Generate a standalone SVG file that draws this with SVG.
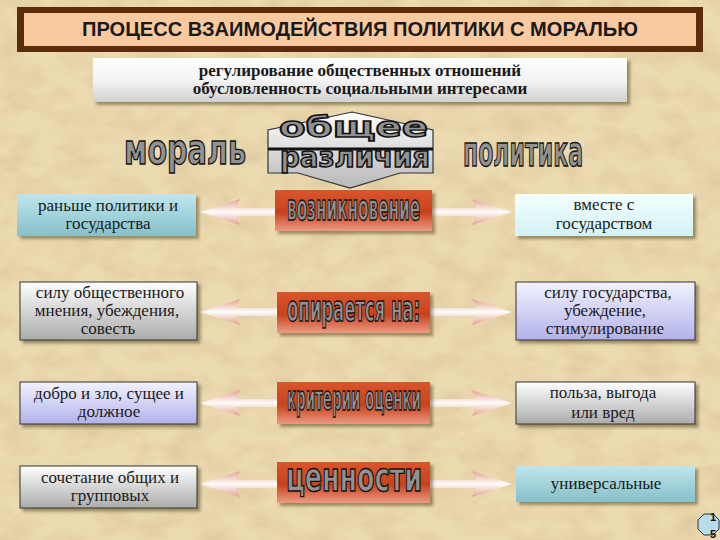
<svg xmlns="http://www.w3.org/2000/svg" width="720" height="540" viewBox="0 0 720 540">
<defs>
  <filter id="paper" x="0" y="0" width="100%" height="100%">
    <feTurbulence type="fractalNoise" baseFrequency="0.03 0.045" numOctaves="4" seed="7"/>
    <feColorMatrix type="matrix" values="0 0 0 0 0.62  0 0 0 0 0.48  0 0 0 0 0.26  0.9 0 0 0 -0.33"/>
  </filter>
  <filter id="shadow" x="-10%" y="-20%" width="125%" height="150%">
    <feDropShadow dx="3" dy="3" stdDeviation="1.8" flood-color="#3a2a10" flood-opacity="0.45"/>
  </filter>
  <linearGradient id="gSub" x1="0" y1="0" x2="0" y2="1">
    <stop offset="0" stop-color="#ffffff"/>
    <stop offset="0.5" stop-color="#f4f4f4"/>
    <stop offset="1" stop-color="#d0d0d0"/>
  </linearGradient>
  <linearGradient id="gRed" x1="0" y1="0" x2="0" y2="1">
    <stop offset="0" stop-color="#d9552c"/>
    <stop offset="0.55" stop-color="#c9421c"/>
    <stop offset="1" stop-color="#eb9a84"/>
  </linearGradient>
  <linearGradient id="gTeal" x1="0" y1="0" x2="0" y2="1">
    <stop offset="0" stop-color="#bfe6ec"/>
    <stop offset="1" stop-color="#86c0ca"/>
  </linearGradient>
  <linearGradient id="gCyan" x1="0" y1="0" x2="0" y2="1">
    <stop offset="0" stop-color="#f4ffff"/>
    <stop offset="1" stop-color="#d2f2f6"/>
  </linearGradient>
  <linearGradient id="gGray" x1="0" y1="0" x2="0" y2="1">
    <stop offset="0" stop-color="#ffffff"/>
    <stop offset="1" stop-color="#ababab"/>
  </linearGradient>
  <linearGradient id="gLav" x1="0" y1="0" x2="0" y2="1">
    <stop offset="0" stop-color="#f2f2ff"/>
    <stop offset="1" stop-color="#b2b2ea"/>
  </linearGradient>
  <linearGradient id="gArrow" x1="0" y1="0" x2="0" y2="1">
    <stop offset="0" stop-color="#e59c8a"/>
    <stop offset="0.5" stop-color="#ffffff"/>
    <stop offset="1" stop-color="#e59c8a"/>
  </linearGradient>
  <linearGradient id="gCentral" x1="0" y1="0" x2="0" y2="1">
    <stop offset="0" stop-color="#ffffff"/>
    <stop offset="1" stop-color="#b8b8b8"/>
  </linearGradient>
  <path id="harrow" d="M0,0 L40,-13 L36,-4 L276,-4 L272,-13 L312,0 L272,13 L276,4 L36,4 L40,13 Z"/>
</defs>
<style>
  .txt { font-family: "Liberation Serif", "Times New Roman", "DejaVu Serif", serif; font-size: 17px; fill: #1a1a1a; text-anchor: middle; }
  .sub { font-family: "Liberation Serif", "Times New Roman", "DejaVu Serif", serif; font-size: 17px; font-weight: bold; fill: #1a1a1a; text-anchor: middle; }
  .art { font-family: "DejaVu Sans Condensed", "DejaVu Sans", sans-serif; font-weight: bold; fill: #929292; stroke: #111; stroke-width: 1.4; text-anchor: start; }
  .red { fill: url(#gRed); filter: url(#shadow); }
  .teal { fill: url(#gTeal); filter: url(#shadow); }
  .cyan { fill: url(#gCyan); filter: url(#shadow); }
  .gray { fill: url(#gGray); stroke: #333; stroke-width: 1; filter: url(#shadow); }
  .lav { fill: url(#gLav); stroke: #333; stroke-width: 1; filter: url(#shadow); }
  .arr { fill: url(#gArrow); opacity: 0.95; }
</style>

<!-- background -->
<rect x="0" y="0" width="720" height="540" fill="#ecdab1"/>
<rect x="0" y="0" width="720" height="540" filter="url(#paper)"/>

<!-- title -->
<g id="title">
  <rect x="17" y="7" width="686" height="45" fill="#5b2c0b"/>
  <rect x="24" y="13" width="672" height="33" fill="#f9c9a0"/>
  <text x="360" y="36" text-anchor="middle" font-family="Liberation Sans, Arial, sans-serif" font-weight="bold" font-size="20" fill="#1a1a1a" textLength="556" lengthAdjust="spacingAndGlyphs">ПРОЦЕСС ВЗАИМОДЕЙСТВИЯ ПОЛИТИКИ С МОРАЛЬЮ</text>
</g>

<!-- subtitle -->
<g id="subtitle">
  <rect x="93" y="58" width="534" height="44" fill="url(#gSub)" filter="url(#shadow)"/>
  <text class="sub" x="360" y="76">регулирование общественных отношений</text>
  <text class="sub" x="360" y="94">обусловленность социальными интересами</text>
</g>

<!-- central double arrow -->
<g id="central">
  <path d="M352,112 L433,130 L433,173 L400,173 L350,188 L298,173 L268,173 L268,130 Z" fill="url(#gCentral)" stroke="#333" stroke-width="1.2"/>
  <line x1="268" y1="149" x2="433" y2="149" stroke="#111" stroke-width="3"/>
  <text class="art" x="279" y="137" font-size="28" textLength="149" lengthAdjust="spacingAndGlyphs">общее</text>
  <text class="art" x="280" y="167" font-size="28" textLength="150" lengthAdjust="spacingAndGlyphs">различия</text>
</g>

<g id="moral">
  <text class="art" x="124" y="164" font-size="42" textLength="122" lengthAdjust="spacingAndGlyphs">мораль</text>
</g>
<g id="politics">
  <text class="art" x="463" y="166" font-size="42" textLength="120" lengthAdjust="spacingAndGlyphs">политика</text>
</g>

<!-- connectors -->
<g id="connectors">
  <use href="#harrow" class="arr" transform="translate(200,212)"/>
  <use href="#harrow" class="arr" transform="translate(200,312)"/>
  <use href="#harrow" class="arr" transform="translate(200,403)"/>
  <use href="#harrow" class="arr" transform="translate(200,484)"/>
</g>

<!-- row 1 -->
<g id="r1-left">
  <rect class="teal" x="17" y="194" width="179" height="42"/>
  <text class="txt" x="108" y="211">раньше политики и</text>
  <text class="txt" x="108" y="229">государства</text>
</g>
<g id="r1-center">
  <rect class="red" x="275" y="190" width="157" height="41"/>
  <text class="art" x="287" y="220" font-size="36" textLength="133" lengthAdjust="spacingAndGlyphs">возникновение</text>
</g>
<g id="r1-right">
  <rect class="cyan" x="515" y="194" width="178" height="42"/>
  <text class="txt" x="604" y="210">вместе с</text>
  <text class="txt" x="604" y="229">государством</text>
</g>

<!-- row 2 -->
<g id="r2-left">
  <rect class="gray" x="20" y="282" width="177" height="58"/>
  <text class="txt" x="110" y="298">силу общественного</text>
  <text class="txt" x="107" y="316">мнения, убеждения,</text>
  <text class="txt" x="108" y="334">совесть</text>
</g>
<g id="r2-center">
  <rect class="red" x="277" y="292" width="153" height="41"/>
  <text class="art" x="287" y="321" font-size="36" textLength="133" lengthAdjust="spacingAndGlyphs">опирается на:</text>
</g>
<g id="r2-right">
  <rect class="lav" x="516" y="282" width="179" height="58"/>
  <text class="txt" x="608" y="298">силу государства,</text>
  <text class="txt" x="605" y="316">убеждение,</text>
  <text class="txt" x="605" y="334">стимулирование</text>
</g>

<!-- row 3 -->
<g id="r3-left">
  <rect class="lav" x="20" y="382" width="177" height="42"/>
  <text class="txt" x="109" y="399">добро и зло, сущее и</text>
  <text class="txt" x="109" y="417">должное</text>
</g>
<g id="r3-center">
  <rect class="red" x="277" y="382" width="153" height="42"/>
  <text class="art" x="287" y="410" font-size="33" textLength="134" lengthAdjust="spacingAndGlyphs">критерии оценки</text>
</g>
<g id="r3-right">
  <rect class="gray" x="516" y="382" width="179" height="42"/>
  <text class="txt" x="603" y="398">польза, выгода</text>
  <text class="txt" x="603" y="418">или вред</text>
</g>

<!-- row 4 -->
<g id="r4-left">
  <rect class="gray" x="20" y="466" width="177" height="42"/>
  <text class="txt" x="110" y="483">сочетание общих и</text>
  <text class="txt" x="110" y="501">групповых</text>
</g>
<g id="r4-center">
  <rect class="red" x="277" y="462" width="153" height="41"/>
  <text class="art" x="286" y="491" font-size="40" textLength="136" lengthAdjust="spacingAndGlyphs">ценности</text>
</g>
<g id="r4-right">
  <rect class="teal" x="516" y="466" width="179" height="36"/>
  <text class="txt" x="606" y="489">универсальные</text>
</g>

<!-- page number -->
<g id="page">
  <polygon points="704,514 713,514 719,520 719,529 713,535 704,535 698,529 698,520" fill="#b9dcec" stroke="#333" stroke-width="1"/>
  <text x="713" y="521" font-family="Liberation Sans, Arial, sans-serif" font-size="11" font-weight="bold" fill="#111" text-anchor="middle">1</text>
  <text x="713" y="538" font-family="Liberation Sans, Arial, sans-serif" font-size="11" font-weight="bold" fill="#111" text-anchor="middle">5</text>
</g>
</svg>
